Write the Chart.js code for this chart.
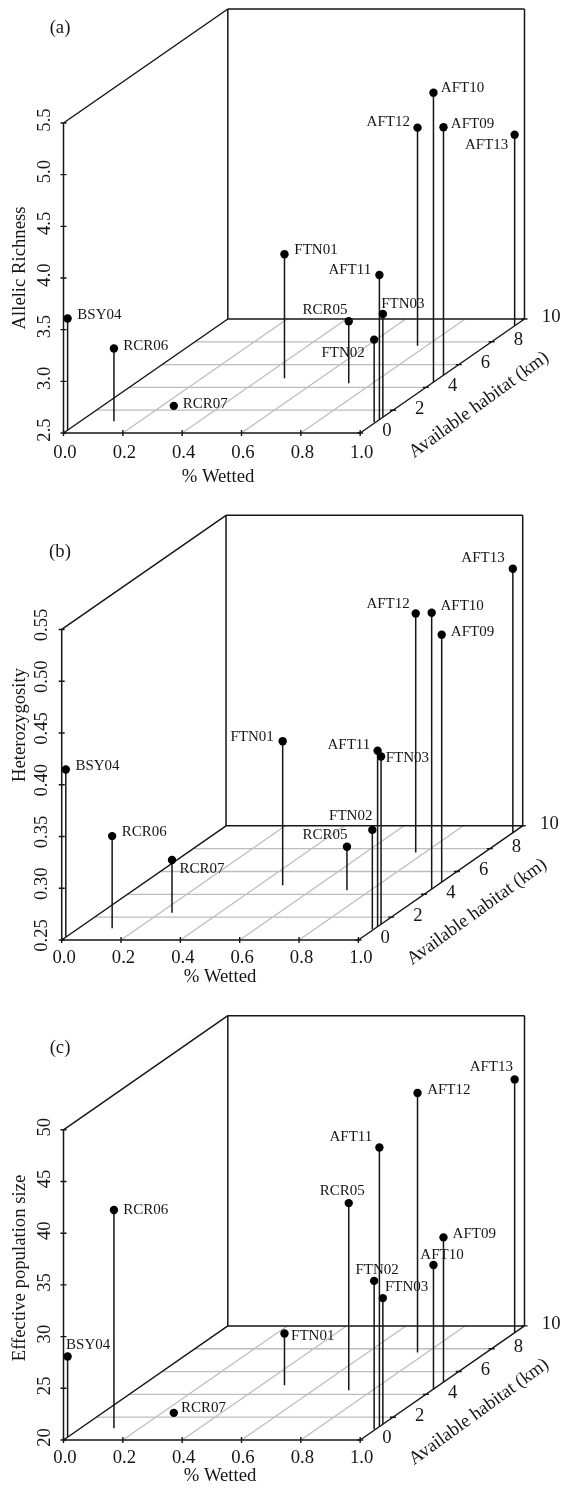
<!DOCTYPE html>
<html>
<head>
<meta charset="utf-8">
<title>Genetic diversity vs wetted habitat</title>
<script src="https://cdn.jsdelivr.net/npm/chart.js@4"></script>
<style>
  html, body { margin: 0; padding: 0; background: #fff; }
  #page { position: relative; width: 564px; height: 1488px; overflow: hidden; }
  canvas { position: absolute; left: 0; }
</style>
</head>
<body>
<div id="page"></div>
<script>
// values
const sites   = ['BSY04', 'RCR06', 'RCR07', 'FTN01', 'RCR05', 'FTN02', 'AFT11', 'FTN03', 'AFT12', 'AFT10', 'AFT09', 'AFT13'];
const wetted  = [0, 0.113, 0.24, 0.479, 0.72, 0.995, 1, 1, 0.769, 1, 1, 1];
const habitat = [0.25, 1.03, 2.38, 4.8, 4.36, 0.94, 1.17, 1.38, 7.66, 4.46, 5.07, 9.4];
const allelicRichness = [3.58, 3.205, 2.5, 3.7, 3.1, 3.3, 3.9, 3.5, 4.61, 5.3, 4.9, 4.35];
const heterozygosity  = [0.412, 0.339, 0.301, 0.389, 0.292, 0.346, 0.42, 0.412, 0.481, 0.517, 0.489, 0.505];
const effectiveSize   = [27.8, 41.1, 20, 25, 38.1, 34.35, 47, 32.2, 45.1, 32, 34, 44.5];

const wettedTicks  = [0, 0.2, 0.4, 0.6, 0.8, 1];
const habitatTicks = [0, 2, 4, 6, 8, 10];
const richnessTicks = [2.5, 3, 3.5, 4, 4.5, 5, 5.5];
const heteroTicks   = [0.25, 0.3, 0.35, 0.4, 0.45, 0.5, 0.55];
const sizeTicks     = [20, 25, 30, 35, 40, 45, 50];

// oblique projection of the floor: one km of habitat moves this far along the two chart scales
const skewX = 164.5 / 297 / 10;
const depthRatio = 114 / 310;

const FONT = '"Liberation Serif", "Times New Roman", serif';
const INK = '#161616';
const AXIS_SIZE = 18.7;

const panels = [
  { tag: '(a)', tagPos: [60, 28], top: 0, height: 496, left: 63.5, plotTop: 9, plotBottom: 433,
    values: allelicRichness, ticks: richnessTicks, decimals: 1, tickPad: -1, tickShift: -3, xPad: 1, xShift: 1.5,
    yTitle: 'Allelic Richness', yTitlePos: [20, 268], xTitlePos: [218, 477], depthPos: [479, 405],
    labels: { BSY04: [31.8, -3], RCR06: [31.8, -2.5], RCR07: [31.5, -2], FTN01: [31.5, -4], AFT11: [-29.6, -5], RCR05: [-23.7, -11],
      FTN03: [20, -10], FTN02: [-31, 13.3], AFT12: [-29.3, -5.6], AFT10: [29, -4.7], AFT09: [29, -3], AFT13: [-28, 10] } },
  { tag: '(b)', tagPos: [60, 552], top: 496, height: 500, left: 61.7, plotTop: 515.3, plotBottom: 940,
    values: heterozygosity, ticks: heteroTicks, decimals: 2, tickPad: -5.2, tickShift: -4.5, xPad: -1, xShift: 2.5,
    yTitle: 'Heterozygosity', yTitlePos: [20, 725], xTitlePos: [220, 977], depthPos: [477, 912],
    labels: { BSY04: [31.7, -3.6], RCR06: [32, -3.6], RCR07: [30, 9], FTN01: [-30.5, -4.7], AFT11: [-28.7, -6], FTN03: [26.3, 1],
      FTN02: [-21.6, -14.3], RCR05: [-22, -12], AFT12: [-27.6, -9.7], AFT10: [30.5, -6.7], AFT09: [30.8, -2.7], AFT13: [-29.8, -10.3] } },
  { tag: '(c)', tagPos: [60, 1048], top: 996, height: 492, left: 63.5, plotTop: 1015.7, plotBottom: 1440,
    values: effectiveSize, ticks: sizeTicks, decimals: 0, tickPad: 1.3, tickShift: -2.5, xPad: -1, xShift: 1.5,
    yTitle: 'Effective population size', yTitlePos: [20, 1268], xTitlePos: [220, 1476], depthPos: [479, 1412],
    labels: { BSY04: [20.6, -11.4], RCR06: [31.7, -0.4], RCR07: [29.7, -5], FTN01: [28.3, 2.3], RCR05: [-6.5, -12], AFT11: [-28.5, -10.3],
      FTN02: [3, -11.3], FTN03: [23.7, -11], AFT10: [8.5, -10.3], AFT09: [30.8, -3.3], AFT12: [31.3, -3.3], AFT13: [-23.3, -12] } }
];

function segments(list) {
  const out = [];
  list.forEach(seg => { out.push(seg[0], seg[1], { x: NaN, y: NaN }); });
  return out;
}

// draws the short tick marks and every text that is not a plain axis tick
const overlay = {
  id: 'overlay',
  afterDraw(chart, args, opts) {
    const p = opts.panel, c = chart.ctx, xs = chart.scales.x, ys = chart.scales.y;
    const px = (w, h) => xs.getPixelForValue(w + h * opts.skewX);
    const py = (z, h) => ys.getPixelForValue(z + h * opts.skewZ);
    const zMin = p.ticks[0];

    c.save();
    c.strokeStyle = INK;
    c.lineWidth = 1.4;
    c.beginPath();
    wettedTicks.forEach(w => { c.moveTo(px(w, 0), py(zMin, 0) - 3); c.lineTo(px(w, 0), py(zMin, 0) + 3); });
    p.ticks.forEach(z => { c.moveTo(px(0, 0) - 3, py(z, 0)); c.lineTo(px(0, 0) + 3, py(z, 0)); });
    habitatTicks.forEach(h => { c.moveTo(px(1, h) - 3, py(zMin, h)); c.lineTo(px(1, h) + 3, py(zMin, h)); });
    c.stroke();

    c.fillStyle = INK;
    c.textAlign = 'center';
    c.textBaseline = 'middle';

    c.font = '15px ' + FONT;
    sites.forEach((s, i) => {
      const off = p.labels[s];
      c.fillText(s, px(wetted[i], habitat[i]) + off[0], py(p.values[i], habitat[i]) + off[1]);
    });

    c.font = AXIS_SIZE + 'px ' + FONT;
    habitatTicks.forEach(h => {
      c.fillText(String(h), px(1, h) + 26.7, py(zMin, h) - 1.5);
    });
    c.fillText('% Wetted', p.xTitlePos[0], p.xTitlePos[1] - p.top);
    c.fillText(p.tag, p.tagPos[0], p.tagPos[1] - p.top);

    c.save();
    c.translate(p.yTitlePos[0], p.yTitlePos[1] - p.top);
    c.rotate(-Math.PI / 2);
    c.fillText(p.yTitle, 0, 0);
    c.restore();

    c.save();
    c.translate(p.depthPos[0], p.depthPos[1] - p.top);
    c.rotate(-36 * Math.PI / 180);
    c.fillText('Available habitat (km)', 0, 0);
    c.restore();
    c.restore();
  }
};

panels.forEach(p => {
  const cv = document.createElement('canvas');
  cv.width = 564;
  cv.height = p.height;
  cv.style.top = p.top + 'px';
  document.getElementById('page').appendChild(cv);

  const zMin = p.ticks[0], zMax = p.ticks[p.ticks.length - 1];
  const skewZ = (zMax - zMin) * depthRatio / 10;
  const pt = (w, h, z) => ({ x: w + h * skewX, y: z + h * skewZ });

  const floor = [];
  habitatTicks.slice(1, -1).forEach(h => floor.push([pt(0, h, zMin), pt(1, h, zMin)]));
  wettedTicks.slice(1, -1).forEach(w => floor.push([pt(w, 0, zMin), pt(w, 10, zMin)]));

  const box = [
    [pt(0, 0, zMin), pt(1, 0, zMin)],
    [pt(0, 0, zMin), pt(0, 0, zMax)],
    [pt(0, 0, zMin), pt(0, 10, zMin)],
    [pt(1, 0, zMin), pt(1, 10, zMin)],
    [pt(0, 10, zMin), pt(1, 10, zMin)],
    [pt(0, 10, zMin), pt(0, 10, zMax)],
    [pt(1, 10, zMin), pt(1, 10, zMax)],
    [pt(0, 10, zMax), pt(1, 10, zMax)],
    [pt(0, 0, zMax), pt(0, 10, zMax)]
  ];

  const stems = sites.map((s, i) => [pt(wetted[i], habitat[i], zMin), pt(wetted[i], habitat[i], p.values[i])]);
  const dots = sites.map((s, i) => pt(wetted[i], habitat[i], p.values[i]));

  new Chart(cv, {
    type: 'scatter',
    data: {
      datasets: [
        { label: 'Sites', data: dots, pointRadius: 4.2, pointBackgroundColor: '#000', pointBorderWidth: 0, showLine: false, clip: false },
        { label: 'Stems', data: segments(stems), showLine: true, borderColor: INK, borderWidth: 1.5, pointRadius: 0, clip: false },
        { label: 'Box', data: segments(box), showLine: true, borderColor: INK, borderWidth: 1.5, pointRadius: 0, clip: false },
        { label: 'Floor', data: segments(floor), showLine: true, borderColor: '#bdbdbd', borderWidth: 1.3, pointRadius: 0, clip: false }
      ]
    },
    options: {
      responsive: false,
      animation: false,
      layout: { padding: { top: p.plotTop - p.top, right: 564 - (p.left + 461), left: 0, bottom: 0 } },
      plugins: { legend: { display: false }, tooltip: { enabled: false }, overlay: { panel: p, skewX: skewX, skewZ: skewZ } },
      scales: {
        x: {
          type: 'linear',
          min: 0,
          max: 1 + 10 * skewX,
          border: { display: false },
          grid: { display: false },
          afterBuildTicks(scale) { scale.ticks = wettedTicks.map(v => ({ value: v })); },
          afterFit(scale) {
            scale.height = p.top + p.height - p.plotBottom;
            scale.paddingLeft = scale.paddingRight = 0;
          },
          ticks: {
            autoSkip: false, maxRotation: 0, padding: p.xPad, labelOffset: p.xShift, color: INK,
            font: { family: FONT, size: AXIS_SIZE },
            callback: v => v.toFixed(1)
          }
        },
        y: {
          type: 'linear',
          min: zMin,
          max: zMax + 10 * skewZ,
          border: { display: false },
          grid: { display: false },
          afterBuildTicks(scale) { scale.ticks = p.ticks.map(v => ({ value: v })); },
          afterFit(scale) {
            scale.width = p.left;
            scale.paddingTop = scale.paddingBottom = 0;
          },
          ticks: {
            autoSkip: false, minRotation: 90, maxRotation: 90, crossAlign: 'center',
            padding: p.tickPad, labelOffset: p.tickShift, color: INK,
            font: { family: FONT, size: AXIS_SIZE },
            callback: v => v.toFixed(p.decimals)
          }
        }
      }
    },
    plugins: [overlay]
  });
});
</script>
</body>
</html>
